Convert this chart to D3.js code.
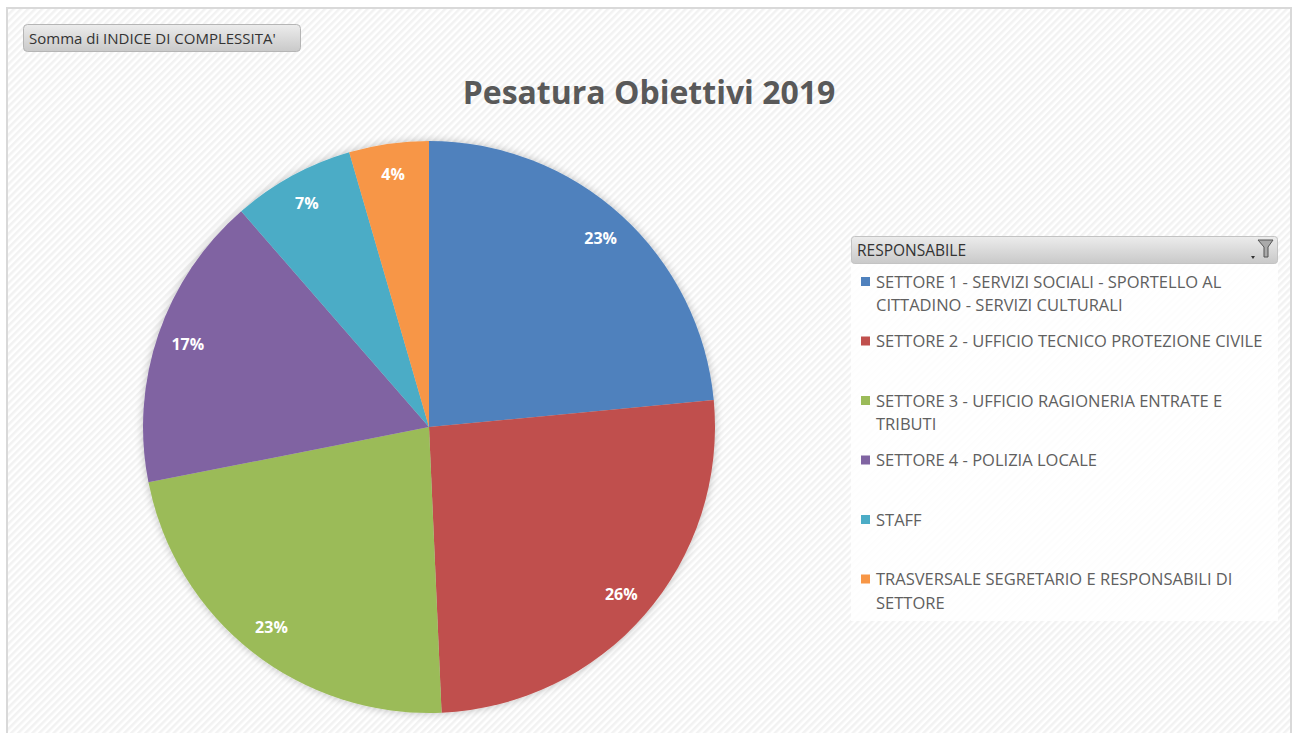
<!DOCTYPE html>
<html>
<head>
<meta charset="utf-8">
<script src="https://cdn.jsdelivr.net/npm/d3@7"></script>
<style>
  body { margin: 0; background: #fff; }
  svg { display: block; }
</style>
</head>
<body>
<div id="chart"></div>
<script>
// data
var categories = [
    "SETTORE 1 - SERVIZI SOCIALI - SPORTELLO AL CITTADINO - SERVIZI CULTURALI",
    "SETTORE 2 - UFFICIO TECNICO PROTEZIONE CIVILE",
    "SETTORE 3 - UFFICIO RAGIONERIA ENTRATE E TRIBUTI",
    "SETTORE 4 - POLIZIA LOCALE",
    "STAFF",
    "TRASVERSALE SEGRETARIO E RESPONSABILI DI SETTORE"
];
var values = [23.5, 25.8, 22.6, 16.7, 6.9, 4.5];
var colors = ["#4F81BD", "#C0504D", "#9BBB59", "#8064A2", "#4BACC6", "#F79646"];

var svgWidth = 1292;
var svgHeight = 733;
var font = "'Open Sans', 'Noto Sans', sans-serif";

var svg = d3.select("#chart").append("svg")
    .attr("width", svgWidth)
    .attr("height", svgHeight);

var defs = svg.append("defs");

// striped background
var pat = defs.append("pattern")
    .attr("id", "stripes")
    .attr("width", 5)
    .attr("height", 5)
    .attr("patternUnits", "userSpaceOnUse")
    .attr("patternTransform", "rotate(45)");
pat.append("rect").attr("width", 5).attr("height", 5).attr("fill", "#ffffff");
pat.append("rect").attr("width", 2.5).attr("height", 5).attr("fill", "#f2f2f2");

var btnGrad = defs.append("linearGradient")
    .attr("id", "btnGrad").attr("x1", 0).attr("y1", 0).attr("x2", 0).attr("y2", 1);
btnGrad.append("stop").attr("offset", "0%").attr("stop-color", "#ececec");
btnGrad.append("stop").attr("offset", "100%").attr("stop-color", "#c9c9c9");

var shadow = defs.append("filter")
    .attr("id", "shadow")
    .attr("x", "-10%").attr("y", "-10%").attr("width", "120%").attr("height", "120%");
shadow.append("feGaussianBlur").attr("in", "SourceAlpha").attr("stdDeviation", 4).attr("result", "blur");
shadow.append("feComponentTransfer").attr("in", "blur").attr("result", "soft")
    .append("feFuncA").attr("type", "linear").attr("slope", 0.25);
var merge = shadow.append("feMerge");
merge.append("feMergeNode").attr("in", "soft");
merge.append("feMergeNode").attr("in", "SourceGraphic");

// chart area frame
svg.append("rect")
    .attr("x", 7).attr("y", 8)
    .attr("width", 1284).attr("height", 740)
    .attr("fill", "url(#stripes)")
    .attr("stroke", "#d9d9d9")
    .attr("stroke-width", 2);

// field button
svg.append("rect")
    .attr("x", 23.5).attr("y", 24.5)
    .attr("width", 277).attr("height", 27)
    .attr("rx", 4)
    .attr("fill", "url(#btnGrad)")
    .attr("stroke", "#b5b5b5");
svg.append("text")
    .attr("x", 29).attr("y", 44)
    .attr("font-family", font)
    .attr("font-size", 15)
    .attr("fill", "#333")
    .text("Somma di INDICE DI COMPLESSITA'");

// title
svg.append("text")
    .attr("x", 649).attr("y", 104)
    .attr("text-anchor", "middle")
    .attr("font-family", font)
    .attr("font-weight", "bold")
    .attr("font-size", 32)
    .attr("fill", "#595959")
    .text("Pesatura Obiettivi 2019");

// pie
var cx = 429, cy = 427, radius = 286;
var pie = d3.pie().sort(null).value(d => d);
var arc = d3.arc().innerRadius(0).outerRadius(radius);
var labelArc = d3.arc().innerRadius(255).outerRadius(255);
var arcs = pie(values);
var total = d3.sum(values);

var pieGroup = svg.append("g")
    .attr("transform", `translate(${cx},${cy})`);

pieGroup.append("g")
    .attr("filter", "url(#shadow)")
    .selectAll("path")
    .data(arcs)
    .enter()
    .append("path")
    .attr("d", arc)
    .attr("fill", (d, i) => colors[i]);

pieGroup.selectAll("text.pct")
    .data(arcs)
    .enter()
    .append("text")
    .attr("class", "pct")
    .attr("transform", d => `translate(${labelArc.centroid(d)})`)
    .attr("text-anchor", "middle")
    .attr("dy", "0.35em")
    .attr("font-family", font)
    .attr("font-weight", "bold")
    .attr("font-size", 16)
    .attr("fill", "#ffffff")
    .text(d => Math.round(d.value / total * 100) + "%");

// legend
var legendX = 851, legendW = 426;
var legend = svg.append("g");

legend.append("rect")
    .attr("x", legendX + 0.5).attr("y", 236.5)
    .attr("width", legendW).attr("height", 27)
    .attr("rx", 3)
    .attr("fill", "url(#btnGrad)")
    .attr("stroke", "#c3c3c3");
legend.append("text")
    .attr("x", legendX + 6).attr("y", 256)
    .attr("font-family", font)
    .attr("font-size", 15.5)
    .attr("fill", "#333")
    .text("RESPONSABILE");

// filter icon
legend.append("path")
    .attr("d", "M1258,240 L1273,240 L1268,247 L1268,257 L1264,257 L1264,247 Z")
    .attr("fill", "#aaa")
    .attr("stroke", "#555")
    .attr("stroke-width", 1);
legend.append("path")
    .attr("d", "M1251,256 L1255,256 L1253,259 Z")
    .attr("fill", "#333");

legend.append("rect")
    .attr("x", legendX).attr("y", 264)
    .attr("width", legendW + 1).attr("height", 357)
    .attr("fill", "#ffffff")
    .attr("opacity", 0.85);

var itemY = d3.scaleBand()
    .domain(d3.range(categories.length))
    .range([269, 626]);

var items = legend.selectAll("g.item")
    .data(categories)
    .enter()
    .append("g")
    .attr("class", "item")
    .attr("transform", (d, i) => `translate(${legendX}, ${itemY(i)})`);

items.append("rect")
    .attr("x", 10).attr("y", 8)
    .attr("width", 9).attr("height", 9)
    .attr("fill", (d, i) => colors[i]);

items.append("text")
    .attr("x", 25)
    .attr("font-family", font)
    .attr("font-size", 16.5)
    .attr("fill", "#606060")
    .each(function(d) {
        // word wrap inside legend width
        var text = d3.select(this);
        var words = d.split(" ");
        var line = [];
        var lineNo = 0;
        var tspan = text.append("tspan").attr("x", 25).attr("y", 18.5);
        words.forEach(function(w) {
            line.push(w);
            tspan.text(line.join(" "));
            if (tspan.node().getComputedTextLength() > 396 && line.length > 1) {
                line.pop();
                tspan.text(line.join(" "));
                line = [w];
                lineNo++;
                tspan = text.append("tspan").attr("x", 25).attr("y", 18.5 + lineNo * 23.5).text(w);
            }
        });
    });
</script>
</body>
</html>
